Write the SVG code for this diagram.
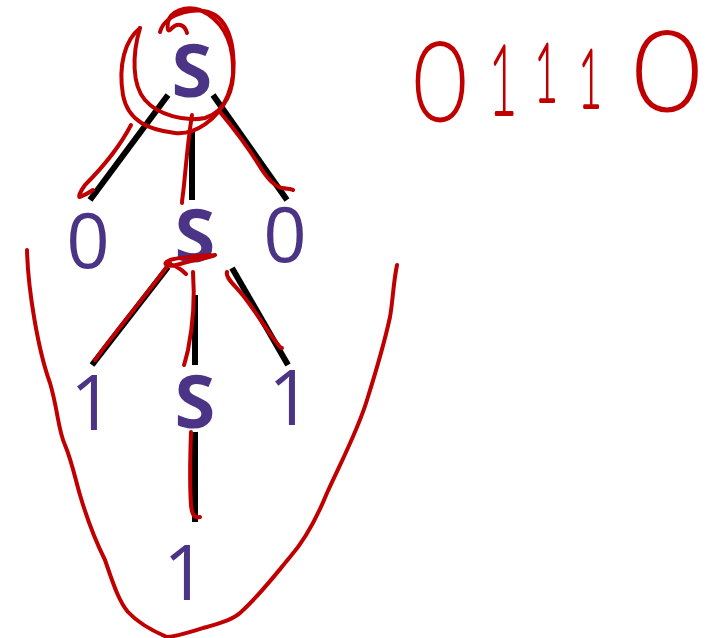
<svg xmlns="http://www.w3.org/2000/svg" width="721" height="638" viewBox="0 0 721 638">
<style>
.nt{font-family:"Open Sans","Liberation Sans",sans-serif;font-weight:bold;font-size:74px;fill:#4B3486;text-anchor:middle}
.t{font-family:"Open Sans","Liberation Sans",sans-serif;font-size:76px;fill:#4B3486;text-anchor:middle}
.e{stroke:#000;stroke-width:6;fill:none}
.ink{stroke:#C00000;stroke-width:4;fill:none;stroke-linecap:round;stroke-linejoin:round}
.hw{font-family:"Lato","DejaVu Sans",sans-serif;font-weight:200;fill:#C00000;stroke:#C00000;stroke-width:4;stroke-linejoin:round;stroke-linecap:round;text-anchor:middle}
</style>
<rect width="721" height="638" fill="#fff"/>
<g id="connectors">
<line class="e" x1="168" y1="95" x2="90" y2="200"/>
<line class="e" x1="192" y1="130" x2="192" y2="200"/>
<line class="e" x1="213" y1="95" x2="287" y2="200"/>
<line class="e" x1="168" y1="267" x2="92" y2="365"/>
<line class="e" x1="195" y1="295" x2="195" y2="365"/>
<line class="e" x1="232" y1="268" x2="288" y2="365"/>
<line class="e" x1="195" y1="432" x2="195" y2="522"/>
</g>
<g id="n_root"><text class="nt" x="192" y="97">S</text></g>
<g id="n_0a"><text class="t" x="88" y="268">0</text></g>
<g id="n_s2"><text class="nt" x="195" y="262">S</text></g>
<g id="n_0b"><text class="t" x="285" y="262">0</text></g>
<g id="n_1a"><text class="t" x="92" y="430">1</text></g>
<g id="n_s3"><text class="nt" x="195" y="428">S</text></g>
<g id="n_1b"><text class="t" x="290" y="425">1</text></g>
<g id="n_1c"><text class="t" x="185" y="600">1</text></g>
<g id="ink">
<path class="ink" d="M160,32 C165,12 200,5 215,15 C235,28 238,70 228,95 C218,120 195,135 175,133 C150,130 128,122 123,95 C118,65 125,40 140,28"/>
<path class="ink" d="M140,28 C132,55 132,85 145,100 C158,115 185,122 205,118 C225,112 235,90 233,65 C232,40 222,20 200,10 C185,5 170,12 168,22 C167,30 168,33 172,28 C178,22 185,25 187,33"/>
<path class="ink" d="M131,125 C118,150 100,170 85,185 C80,192 78,197 80,197 C85,195 90,192 93,190"/>
<path class="ink" d="M192,115 C188,140 186,165 184,185 C183,195 182,200 182,203"/>
<path class="ink" d="M220,112 C235,130 250,150 262,170 C270,182 276,187 282,188 C288,189 292,189 293,190"/>
<path class="ink" d="M215,255 C200,256 180,257 170,260 C160,264 168,268 180,264 C195,259 210,258 215,255 M172,265 C176,266 182,270 186,274"/>
<path class="ink" d="M170,263 C150,290 125,320 110,340 C102,350 98,356 95,360"/>
<path class="ink" d="M193,272 C195,300 192,330 188,350 C186,358 185,362 184,365"/>
<path class="ink" d="M227,272 C225,278 235,285 245,298 C258,315 270,335 280,347 C281,348 282,348 282,348"/>
<path class="ink" d="M191,432 C190,460 190,490 191,505 C192,515 194,518 200,517"/>
<path class="ink" d="M27,250 C28,290 38,350 50,383 C58,410 58,430 65,445 C72,462 75,478 80,495 C88,522 95,540 105,560 C112,580 118,600 128,612 C140,625 155,632 167,637 C180,636 195,630 207,627 C220,623 232,620 240,613 C260,595 275,575 290,557 C305,540 318,515 327,493 C342,460 358,430 367,400 C378,365 385,340 390,317 C393,300 393,285 397,265"/>
</g>
<g id="annotation">
<text class="hw" font-size="108" transform="translate(440,120) scale(0.85,1)">0</text>
<text class="hw" font-size="96" transform="translate(503,114) scale(0.5,1)">1</text>
<text class="hw" font-size="80" transform="translate(546,101) scale(0.5,1)">1</text>
<text class="hw" font-size="80" transform="translate(590,107) scale(0.5,1)">1</text>
<text class="hw" font-size="110" transform="translate(667,110) scale(1.05,1)">0</text>
</g>
</svg>
